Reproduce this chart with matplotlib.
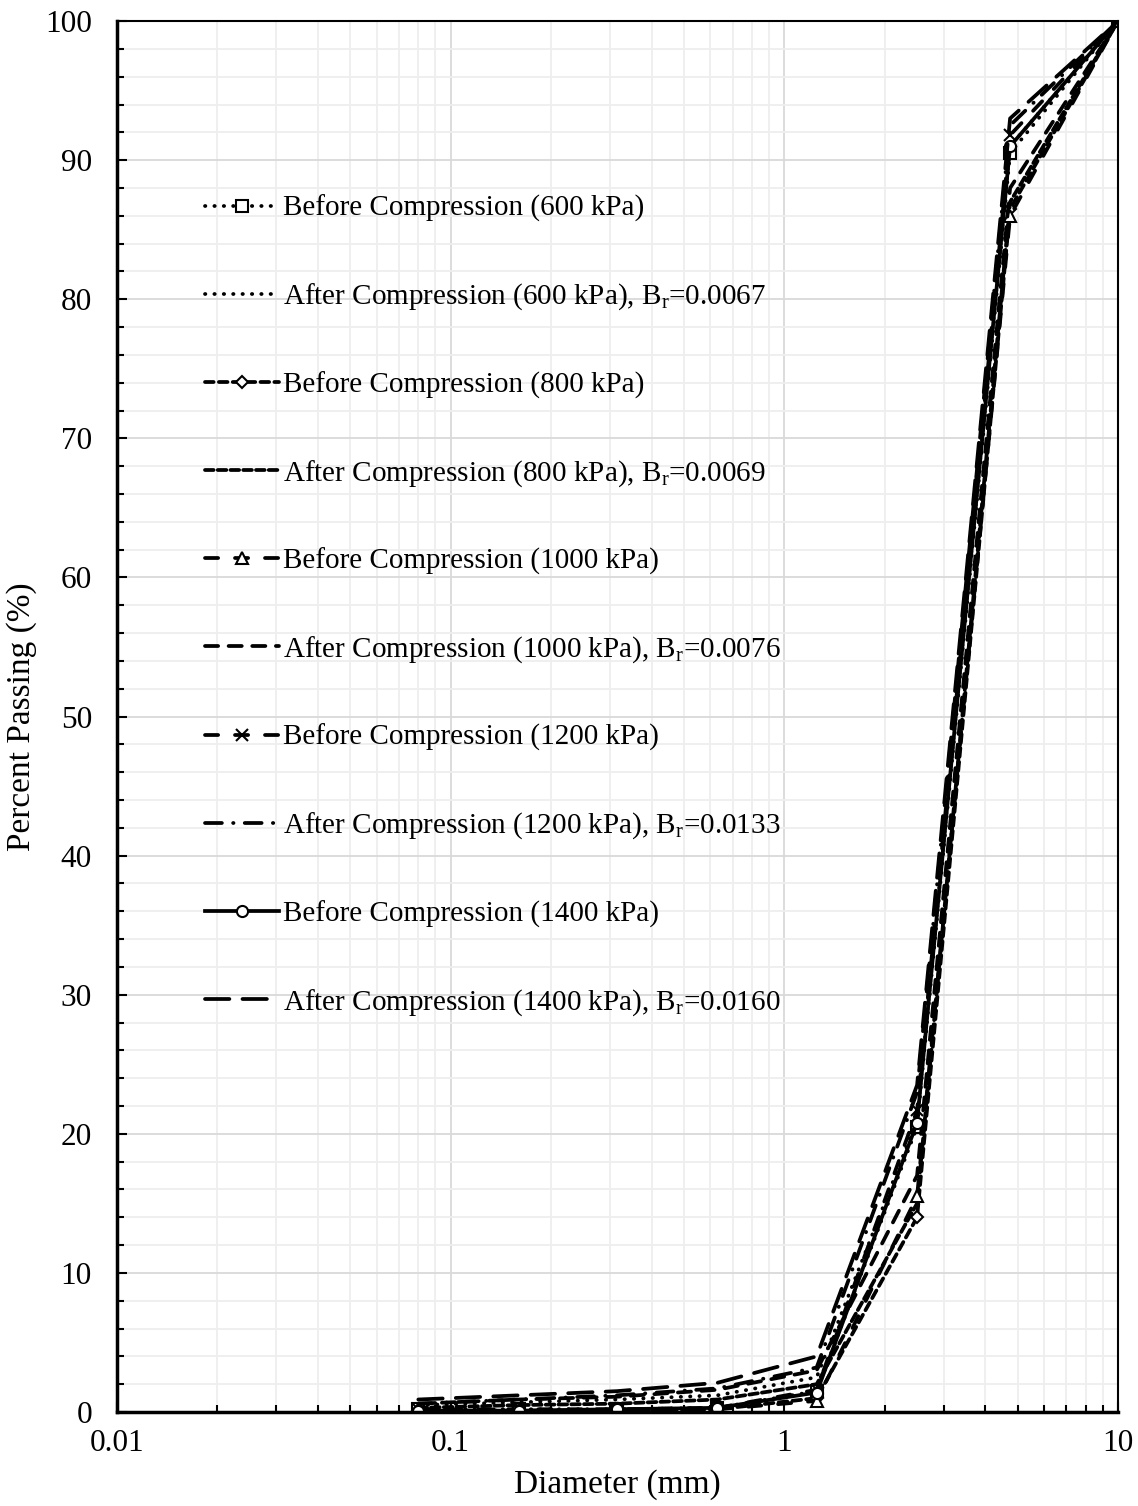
import matplotlib
matplotlib.use('Agg')
import matplotlib.pyplot as plt
from matplotlib.ticker import FixedLocator, LogLocator, MultipleLocator, NullFormatter

plt.rcParams['font.family'] = ['Liberation Serif', 'DejaVu Serif']
plt.rcParams['mathtext.fontset'] = 'custom'
plt.rcParams['mathtext.rm'] = 'Liberation Serif'
plt.rcParams['mathtext.it'] = 'Liberation Serif:italic'

# sieve sizes (mm)
sieves = [0.08, 0.16, 0.315, 0.63, 1.25, 2.5, 4.75, 10]

before_600 = [0.2, 0.2, 0.2, 0.3, 1.5, 20.5, 90.5, 100]
after_600 = [0.5, 0.7, 0.9, 1.2, 2.5, 21.0, 91.0, 100]
before_800 = [0.1, 0.1, 0.1, 0.2, 1.0, 14.0, 86.5, 100]
after_800 = [0.3, 0.5, 0.6, 0.9, 2.0, 15.0, 87.0, 100]
before_1000 = [0.1, 0.1, 0.1, 0.2, 0.8, 15.5, 86.0, 100]
after_1000 = [0.6, 0.9, 1.1, 1.6, 3.0, 17.0, 88.0, 100]
before_1200 = [0.2, 0.2, 0.2, 0.3, 1.6, 21.7, 91.8, 100]
after_1200 = [0.6, 0.9, 1.2, 1.7, 3.2, 23.0, 92.5, 100]
before_1400 = [0.1, 0.1, 0.2, 0.3, 1.4, 20.8, 91.0, 100]
after_1400 = [0.9, 1.2, 1.5, 2.1, 4.0, 23.5, 93.0, 100]

labels = [
    'Before Compression (600 kPa)',
    'After Compression (600 kPa), B$_\\mathrm{r}$=0.0067',
    'Before Compression (800 kPa)',
    'After Compression (800 kPa), B$_\\mathrm{r}$=0.0069',
    'Before Compression (1000 kPa)',
    'After Compression (1000 kPa), B$_\\mathrm{r}$=0.0076',
    'Before Compression (1200 kPa)',
    'After Compression (1200 kPa), B$_\\mathrm{r}$=0.0133',
    'Before Compression (1400 kPa)',
    'After Compression (1400 kPa), B$_\\mathrm{r}$=0.0160',
]
series = [before_600, after_600, before_800, after_800, before_1000,
          after_1000, before_1200, after_1200, before_1400, after_1400]
styles = [
    dict(ls=(0, (0.1, 2.4)), marker='s'),
    dict(ls=(0, (0.1, 2.4)), marker=None),
    dict(ls=(0, (2.3, 1.4)), marker='D', ms=6),
    dict(ls=(0, (2.3, 1.1)), marker=None),
    dict(ls=(0, (3.5, 4.5)), marker='^'),
    dict(ls=(0, (3.5, 2.8)), marker=None),
    dict(ls=(0, (3.5, 4.5)), marker='x'),
    dict(ls=(0, (4.5, 3, 0.1, 3)), marker=None),
    dict(ls='-', marker='o'),
    dict(ls=(0, (6.5, 3.5)), marker=None),
]

fig = plt.figure(figsize=(11.38, 15.06), dpi=100)
ax = fig.add_axes([0.1028, 0.0624, 0.8796, 0.9236])

for y, lab, st in zip(series, labels, styles):
    st = dict(st)
    ms = st.pop('ms', 8)
    ax.plot(sieves, y, color='black', lw=2.7, label=lab, ms=ms,
            mfc='white', mec='black', mew=1.5, dash_capstyle='round',
            **st)

ax.set_xscale('log')
ax.set_xlim(0.01, 10)
ax.set_ylim(0, 100)
ax.xaxis.set_major_locator(FixedLocator([0.01, 0.1, 1, 10]))
ax.set_xticklabels(['0.01', '0.1', '1', '10'])
ax.xaxis.set_minor_locator(LogLocator(base=10, subs=range(2, 10)))
ax.xaxis.set_minor_formatter(NullFormatter())
ax.yaxis.set_major_locator(MultipleLocator(10))
ax.yaxis.set_minor_locator(MultipleLocator(2))

ax.grid(which='major', color='#d9d9d9', lw=1.3)
ax.grid(which='minor', color='#eeeeee', lw=1.3)
ax.set_axisbelow(True)

ax.tick_params(which='both', direction='in', labelsize=22.5, width=1.5)
ax.tick_params(which='major', length=7)
ax.tick_params(which='minor', length=5)
ax.tick_params(axis='y', pad=18)
ax.tick_params(axis='x', pad=12)
ax.spines['left'].set_linewidth(2.5)
ax.spines['bottom'].set_linewidth(2.5)
ax.spines['top'].set_linewidth(1.5)
ax.spines['right'].set_linewidth(1.5)

ax.set_xlabel('Diameter (mm)', fontsize=24, labelpad=8)
ax.set_ylabel('Percent Passing (%)', fontsize=24, labelpad=6)

ax.legend(loc='upper left', bbox_to_anchor=(205 / 1138, 1 - 195 / 1506),
          bbox_transform=fig.transFigure, frameon=False, fontsize=21,
          handlelength=2.55, handletextpad=0.14, labelspacing=2.03,
          borderpad=0, borderaxespad=0)

plt.savefig('out.png', dpi=100)
